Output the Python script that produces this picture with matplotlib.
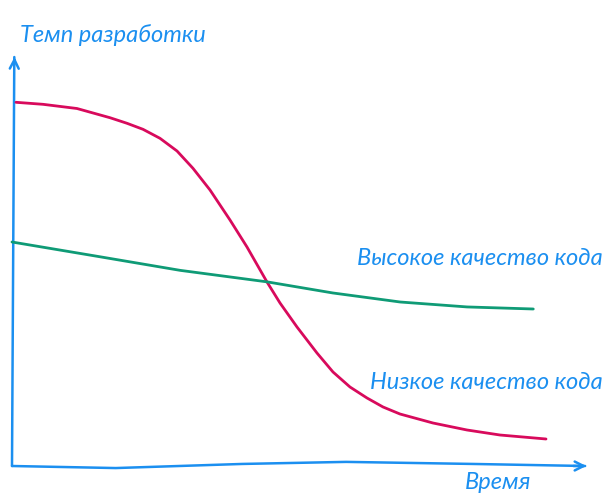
import matplotlib
matplotlib.use("Agg")
import matplotlib.pyplot as plt

# ---- data (time in % of horizon, development pace in % of axis height) ----
low_t = [0.69, 5.38, 11.28, 17.01, 19.97, 22.74, 25.69, 28.65, 31.42, 34.38, 37.85,
         40.80, 44.27, 46.53, 49.48, 52.95, 55.73, 58.68, 61.63, 64.41, 67.36,
         73.09, 78.99, 84.72, 92.71]
low_v = [88.49, 88.00, 86.98, 84.74, 83.38, 81.92, 79.73, 76.64, 72.43, 67.15, 59.85,
         53.28, 44.77, 39.66, 33.82, 27.49, 22.87, 19.22, 16.55, 14.36, 12.65,
         10.46, 8.76, 7.54, 6.57]

high_t = [0.0, 15.3, 29.2, 44.3, 55.7, 67.4, 79.0, 90.5]
high_v = [54.5, 50.9, 47.6, 44.8, 42.1, 39.9, 38.7, 38.2]

y_label = "Темп разработки"
x_label = "Время"
high_label = "Высокое качество кода"
low_label = "Низкое качество кода"

BLUE = "#1b8ff0"
RED = "#d80a5c"
GREEN = "#0f9b76"

fig = plt.figure(figsize=(6.10, 5.01), dpi=100)
ax = fig.add_axes([0, 0, 1, 1])
ax.set_xlim(-2.083, 103.82)
ax.set_ylim(-8.516, 113.38)
ax.axis("off")

# hand-drawn style axes
ax.plot([0.0, 0.4], [0.0, 99.5], color=BLUE, lw=1.8, solid_capstyle="round")
ax.annotate("", xy=(0.45, 100.2), xytext=(0.4, 97.0),
            arrowprops=dict(arrowstyle="->", color=BLUE, lw=1.8, mutation_scale=16))
ax.plot([0.0, 18.0, 40.0, 58.0, 80.0, 99.5], [0.0, -0.5, 0.5, 1.0, 0.5, 0.0],
        color=BLUE, lw=1.8, solid_capstyle="round")
ax.annotate("", xy=(100.2, 0.0), xytext=(97.0, 0.0),
            arrowprops=dict(arrowstyle="->", color=BLUE, lw=1.8, mutation_scale=16))

# series
ax.plot(low_t, low_v, color=RED, lw=2.0, solid_capstyle="round", solid_joinstyle="round")
ax.plot(high_t, high_v, color=GREEN, lw=2.0, solid_capstyle="round", solid_joinstyle="round")

font = dict(family=["Lato", "DejaVu Sans"], style="italic", color=BLUE)
ax.text(1.39, 104.9, y_label, ha="left", va="center", fontsize=17, **font)
ax.text(102.6, 50.6, high_label, ha="right", va="center", fontsize=17, **font)
ax.text(102.6, 20.2, low_label, ha="right", va="center", fontsize=17, **font)
ax.text(84.4, -4.1, x_label, ha="center", va="center", fontsize=17, **font)

fig.savefig("out.png", dpi=100)
